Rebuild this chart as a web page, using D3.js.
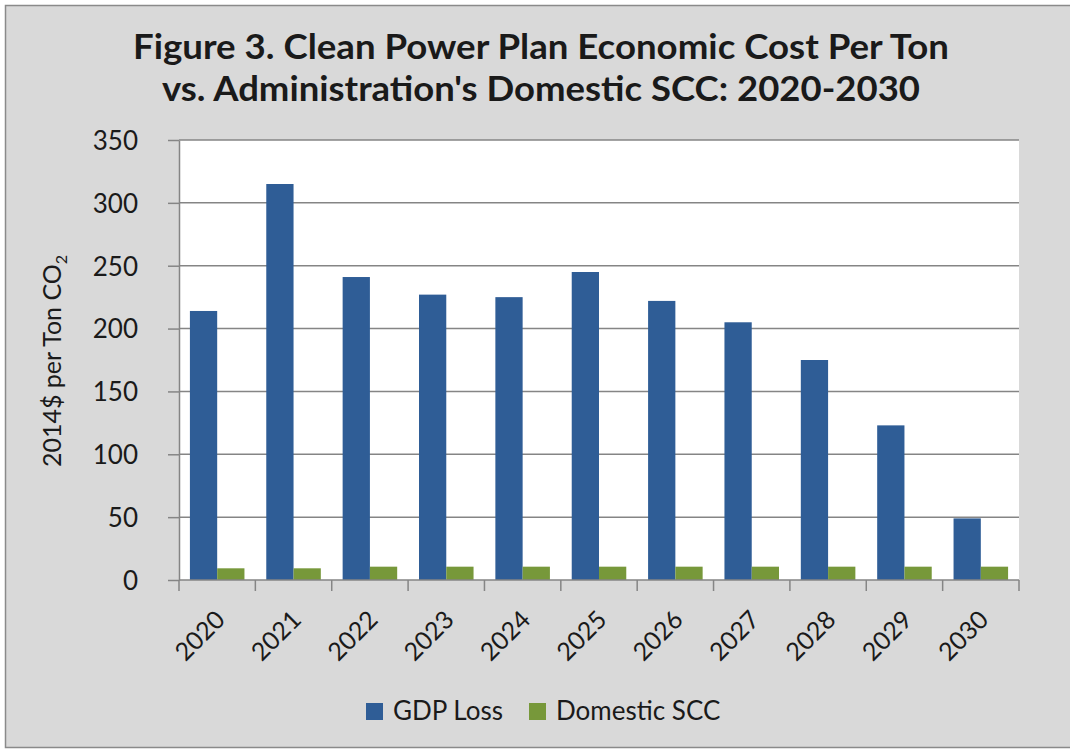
<!DOCTYPE html>
<html><head><meta charset="utf-8">
<script src="https://cdn.jsdelivr.net/npm/d3@7"></script>
<style>
body{margin:0;background:#fff;}
svg text{font-family:Lato,"Open Sans",sans-serif;fill:#1a1a1a;}
</style>
</head><body>
<svg id="c" width="1070" height="749"></svg>
<script>
const years = ["2020","2021","2022","2023","2024","2025","2026","2027","2028","2029","2030"];
const gdpLoss = [214, 315, 241, 227, 225, 245, 222, 205, 175, 123, 49];
const domesticSCC = [9.3, 9.3, 10.6, 10.6, 10.6, 10.6, 10.6, 10.6, 10.6, 10.6, 10.6];
const seriesNames = ["GDP Loss", "Domestic SCC"];
const seriesColors = ["#2f5d96", "#77983a"];
const yTicks = [0, 50, 100, 150, 200, 250, 300, 350];
const titleLines = ["Figure 3. Clean Power Plan Economic Cost Per Ton", "vs. Administration's  Domestic SCC: 2020-2030"];

const svg = d3.select("#c");
const W = 1070, H = 749;
const m = {left:179, right:1019, top:140, bottom:580};

// background & frame
svg.append("rect").attr("x",5.5).attr("y",5.5).attr("width",W).attr("height",H-7)
  .attr("fill","#d9d9d9").attr("stroke","#8a8a8a").attr("stroke-width",1.5);

// title
svg.append("g").selectAll("text").data(titleLines).join("text")
  .attr("x", 541).attr("y",(d,i)=>59+i*42)
  .attr("text-anchor","middle")
  .attr("font-size",34).attr("font-weight","bold")
  .attr("textLength",(d,i)=>i===0?816:758).attr("lengthAdjust","spacingAndGlyphs")
  .text(d=>d);

const x = d3.scaleBand().domain(years).range([m.left, m.right]).padding(0);
const y = d3.scaleLinear().domain([0,350]).range([m.bottom, m.top]);
const inner = d3.scaleBand().domain(seriesNames).range([0, x.bandwidth()]).paddingInner(0).paddingOuter(0.4);

// plot area
svg.append("rect").attr("x",m.left).attr("y",m.top).attr("width",m.right-m.left).attr("height",m.bottom-m.top).attr("fill","#fff");

// gridlines
svg.append("g").selectAll("line").data(yTicks.filter(v=>v>0)).join("line")
  .attr("x1",m.left).attr("x2",m.right).attr("y1",d=>y(d)).attr("y2",d=>y(d))
  .attr("stroke","#858585").attr("stroke-width",1.5);

// bars
const series = [gdpLoss, domesticSCC];
series.forEach((vals,si)=>{
  svg.append("g").selectAll("rect").data(years).join("rect")
    .attr("x",(d,i)=>x(d)+inner(seriesNames[si]))
    .attr("width",inner.bandwidth())
    .attr("y",(d,i)=>y(vals[i]))
    .attr("height",(d,i)=>y(0)-y(vals[i]))
    .attr("fill",seriesColors[si]);
});

// y axis
const yAxis = svg.append("g").attr("transform",`translate(${m.left},0)`)
  .call(d3.axisLeft(y).tickValues(yTicks).tickSize(11).tickSizeOuter(0).tickPadding(30));
yAxis.select(".domain").attr("stroke","#858585").attr("stroke-width",1.5);
yAxis.selectAll(".tick line").attr("stroke","#858585").attr("stroke-width",1.5);
yAxis.selectAll(".tick text").attr("font-size",26).attr("fill","#1a1a1a")
  .attr("font-family","Lato, 'Open Sans', sans-serif").attr("dy","0.36em");

// x axis line & boundary ticks
svg.append("line").attr("x1",m.left).attr("x2",m.right).attr("y1",m.bottom).attr("y2",m.bottom)
  .attr("stroke","#858585").attr("stroke-width",1.5);
const bounds = years.map(d=>x(d)).concat([x(years[years.length-1])+x.bandwidth()]);
svg.append("g").selectAll("line").data(bounds).join("line")
  .attr("x1",d=>d).attr("x2",d=>d).attr("y1",m.bottom).attr("y2",m.bottom+11)
  .attr("stroke","#858585").attr("stroke-width",1.5);

// x labels
svg.append("g").selectAll("text").data(years).join("text")
  .attr("transform",d=>`translate(${x(d)+x.bandwidth()/2-4},${m.bottom+28}) rotate(-45)`)
  .attr("text-anchor","end").attr("dy","0.75em")
  .attr("font-size",25).text(d=>d);

// y title
const yt = svg.append("text").attr("transform","translate(61,361) rotate(-90)")
  .attr("text-anchor","middle").attr("font-size",25);
yt.append("tspan").text("2014$ per Ton CO");
yt.append("tspan").attr("font-size",16).attr("dy",6).text("2");

// legend
const legX = [366, 529];
const lg = svg.append("g");
seriesNames.forEach((n,i)=>{
  lg.append("rect").attr("x",legX[i]).attr("y",703).attr("width",17).attr("height",17).attr("fill",seriesColors[i]);
  lg.append("text").attr("x",legX[i]+27).attr("y",720).attr("font-size",26).text(n);
});
</script>
</body></html>
